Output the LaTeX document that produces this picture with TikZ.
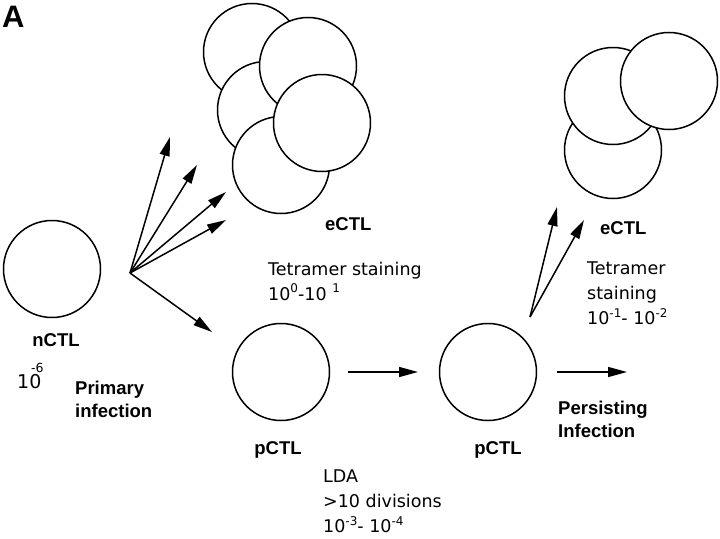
\documentclass[tikz,border=0pt]{standalone}
\usepackage{fontspec}
\setmainfont{DejaVu Sans}
\newfontfamily\lblfont{Liberation Sans}
\usepackage{tikz}
\usetikzlibrary{arrows.meta}

\newcommand{\expo}[1]{\raisebox{0.75ex}{\fontsize{12}{12}\selectfont #1}}

\tikzset{
  cell/.style={circle, draw, fill=white, line width=1.5pt, minimum size=97pt, inner sep=0pt},
  arr/.style={line width=1.5pt, -{Triangle[length=19pt,width=10pt]}},
  lbl/.style={font=\lblfont\bfseries\fontsize{18.5}{23}\selectfont, inner sep=0pt, align=left},
  txt/.style={font=\fontsize{17.5}{25}\selectfont, inner sep=0pt, align=left}
}

\begin{document}
\begin{tikzpicture}[x=1pt, y=-1pt]
      \useasboundingbox (0, 0) rectangle (720, 538);

      % cells
      \node[cell] (nctl) at (52, 269) {};
      \node[cell] (pctla) at (281, 372) {};
      \node[cell] (pctlb) at (488, 372) {};

      \node[cell] (ecla) at (252, 52) {};
      \node[cell] (eclc) at (266, 110) {};
      \node[cell] (eclb) at (308, 66) {};
      \node[cell] (ecle) at (281, 165) {};
      \node[cell] (ecld) at (322, 123) {};

      \node[cell] (ecrh) at (613, 150) {};
      \node[cell] (ecrf) at (613, 96) {};
      \node[cell] (ecrg) at (669, 81) {};

      % arrows
      \coordinate (fan) at (130, 273);
      \coordinate (tipa) at (170, 137);
      \coordinate (tipb) at (197, 165);
      \coordinate (tipc) at (226, 192);
      \coordinate (tipd) at (226, 220);
      \coordinate (tipe) at (212, 332);
      \foreach \tip in {tipa, tipb, tipc, tipd, tipe}
        \draw[arr] (fan) -- (\tip);

      \coordinate (fanr) at (530, 317);
      \coordinate (tipf) at (557, 207);
      \coordinate (tipg) at (584, 220);
      \draw[arr] (fanr) -- (tipf);
      \draw[arr] (fanr) -- (tipg);

      \coordinate (mida) at (348, 372);
      \coordinate (midb) at (418, 372);
      \draw[arr] (mida) -- (midb);
      \coordinate (outa) at (557, 372);
      \coordinate (outb) at (627, 372);
      \draw[arr] (outa) -- (outb);

      % labels
      \node[lbl, anchor=west, font=\lblfont\bfseries\fontsize{31}{31}\selectfont] (panel) at (2, 17) {A};
      \node[lbl] (nlab) at (56, 340) {nCTL};
      \node[txt, anchor=base west, font=\fontsize{19}{25}\selectfont] (nfreq) at (17, 388) {10};
      \node[anchor=base west, inner sep=0pt, font=\fontsize{12.5}{13}\selectfont] (nexp) at (31, 372) {-6};
      \node[lbl, anchor=west] (prim) at (75, 399) {Primary\\infection};

      \node[lbl, anchor=west] (elab) at (325, 224) {eCTL};
      \node[txt, anchor=west] (etet) at (268, 281) {Tetramer staining\\10\expo{0}-10 \expo{1}};

      \node[lbl] (plaba) at (278, 450) {pCTL};
      \node[txt, anchor=west] (lda) at (323, 501) {LDA\\>10 divisions\\10\expo{-3}- 10\expo{-4}};

      \node[lbl] (plabb) at (498, 450) {pCTL};
      \node[lbl, anchor=west] (elabr) at (600, 228) {eCTL};
      \node[txt, anchor=west] (etetr) at (587, 293) {Tetramer\\staining\\10\expo{-1}- 10\expo{-2}};
      \node[lbl, anchor=west] (pers) at (558, 419) {Persisting\\Infection};
\end{tikzpicture}
\end{document}
